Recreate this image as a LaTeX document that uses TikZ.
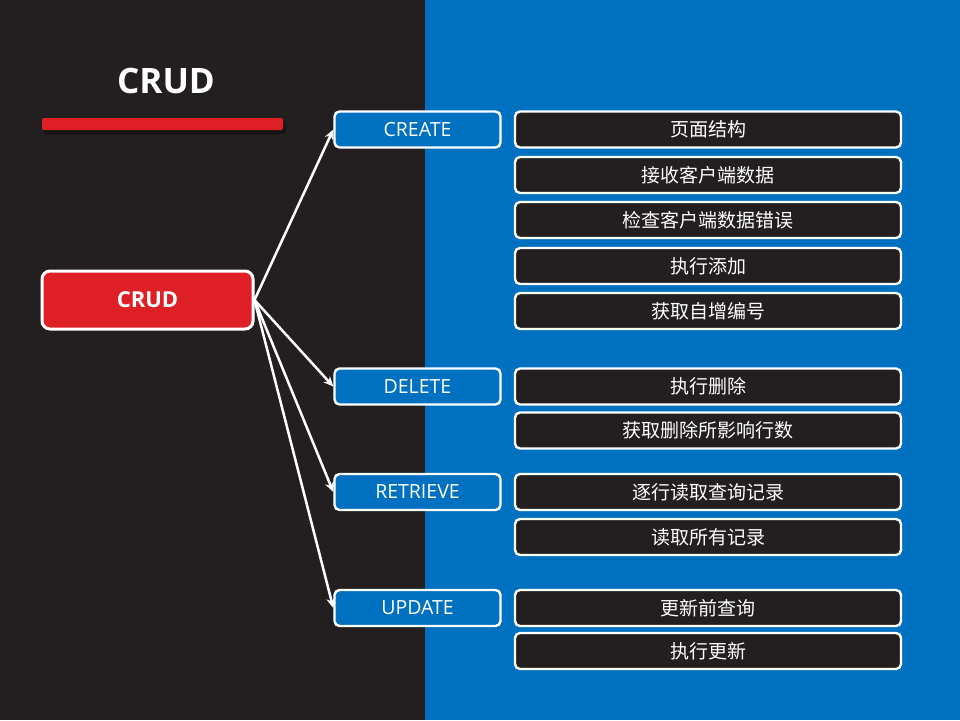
\documentclass[tikz,border=0pt]{standalone}
\usepackage{fontspec}
\setmainfont{Open Sans}
\newfontfamily\cjk{Noto Sans CJK SC}
\usetikzlibrary{arrows.meta,shadows}
\definecolor{darkbg}{HTML}{231F20}
\definecolor{bluebg}{HTML}{0070C0}
\definecolor{redc}{HTML}{DF1F26}
\tikzset{
  rootbox/.style={draw=white, line width=3pt, fill=redc, rounded corners=8pt,
    minimum width=211pt, minimum height=58pt, inner sep=0pt,
    text=white, font=\fontsize{22}{26}\selectfont\bfseries},
  opbox/.style={draw=white, line width=2.4pt, fill=bluebg, rounded corners=5pt,
    minimum width=166pt, minimum height=36pt, inner sep=0pt,
    text=white, font=\fontsize{19.5}{23}\selectfont},
  itembox/.style={draw=white, line width=2.4pt, fill=darkbg, rounded corners=5pt,
    minimum width=386pt, minimum height=36pt, inner sep=0pt,
    text=white, font=\cjk\fontsize{19}{23}\selectfont},
  link/.style={draw=white, line width=2.5pt, -{Stealth[length=10pt,width=9pt]}},
}
\begin{document}
\begin{tikzpicture}[x=1pt,y=-1pt]
\useasboundingbox (0,0) rectangle (960,720);
\fill[darkbg] (0,0) rectangle (425,720);
\fill[bluebg] (425,0) rectangle (960,720);
% title
\node[text=white, font=\fontsize{35}{40}\selectfont\bfseries] (title) at (166,81) {CRUD};
\fill[black, opacity=0.35, rounded corners=2pt] (44,121) rectangle (286,134);
\fill[redc, rounded corners=2pt] (42,118) rectangle (283,130);
% root
\node[rootbox] (root) at (147.5,300) {CRUD};
% operation boxes
\node[opbox] (create) at (417.5,129.5) {CREATE};
\node[opbox] (delete) at (417.5,386.5) {DELETE};
\node[opbox] (retrieve) at (417.5,492) {RETRIEVE};
\node[opbox] (update) at (417.5,608) {UPDATE};
% item boxes
\node[itembox] (c1) at (708,129.5) {页面结构};
\node[itembox] (c2) at (708,175) {接收客户端数据};
\node[itembox] (c3) at (708,220) {检查客户端数据错误};
\node[itembox] (c4) at (708,266) {执行添加};
\node[itembox] (c5) at (708,311) {获取自增编号};
\node[itembox] (d1) at (708,386.5) {执行删除};
\node[itembox] (d2) at (708,430.5) {获取删除所影响行数};
\node[itembox] (r1) at (708,492) {逐行读取查询记录};
\node[itembox] (r2) at (708,537) {读取所有记录};
\node[itembox] (u1) at (708,608) {更新前查询};
\node[itembox] (u2) at (708,651) {执行更新};
% links
\draw[link] (root.east) -- (create.west);
\draw[link] (root.east) -- (delete.west);
\draw[link] (root.east) -- (retrieve.west);
\draw[link] (root.east) -- (update.west);
\end{tikzpicture}
\end{document}
